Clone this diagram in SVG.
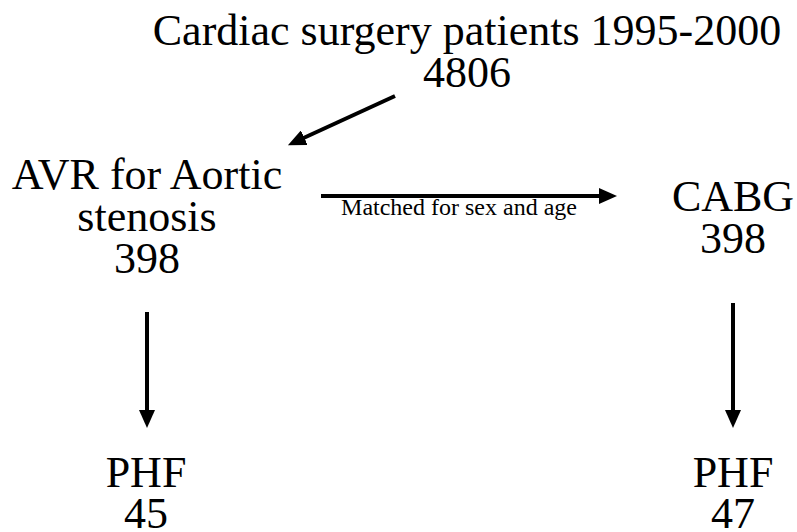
<svg xmlns="http://www.w3.org/2000/svg" width="797" height="532" viewBox="0 0 797 532">
<style>
.t{font-family:'Liberation Serif','DejaVu Serif',serif;fill:#000;text-anchor:middle}
.big{font-size:44px}
.small{font-size:24px}
.conn{stroke:#000;stroke-width:4;fill:none}
</style>
<defs>
<marker id="ah" markerUnits="userSpaceOnUse" markerWidth="18" markerHeight="16" refX="8" refY="8" orient="auto">
<path d="M0,0 L18,8 L0,16 z" fill="#000"/>
</marker>
</defs>
<rect width="797" height="532" fill="#fff"/>
<g id="n-all" font-family="Liberation Serif, serif"><text class="t big" x="467" y="45">Cardiac surgery patients 1995-2000</text><text class="t big" x="467" y="87">4806</text></g>
<g id="n-avr" font-family="Liberation Serif, serif"><text class="t big" x="147" y="189">AVR for Aortic</text><text class="t big" x="147" y="231">stenosis</text><text class="t big" x="147" y="273">398</text></g>
<g id="n-cabg" font-family="Liberation Serif, serif"><text class="t big" x="733" y="211">CABG</text><text class="t big" x="733" y="253">398</text></g>
<g id="n-phf1" font-family="Liberation Serif, serif"><text class="t big" x="146" y="487">PHF</text><text class="t big" x="146" y="528">45</text></g>
<g id="n-phf2" font-family="Liberation Serif, serif"><text class="t big" x="733" y="487">PHF</text><text class="t big" x="733" y="528">47</text></g>
<g id="connectors">
<line class="conn" x1="395" y1="96" x2="297" y2="141" marker-end="url(#ah)"/>
<line class="conn" x1="321" y1="196" x2="607" y2="196" marker-end="url(#ah)"/>
<text class="t small" x="459" y="215" font-family="Liberation Serif, serif">Matched for sex and age</text>
<line class="conn" x1="147" y1="312" x2="147" y2="418" marker-end="url(#ah)"/>
<line class="conn" x1="733" y1="303" x2="733" y2="418" marker-end="url(#ah)"/>
</g>
</svg>
